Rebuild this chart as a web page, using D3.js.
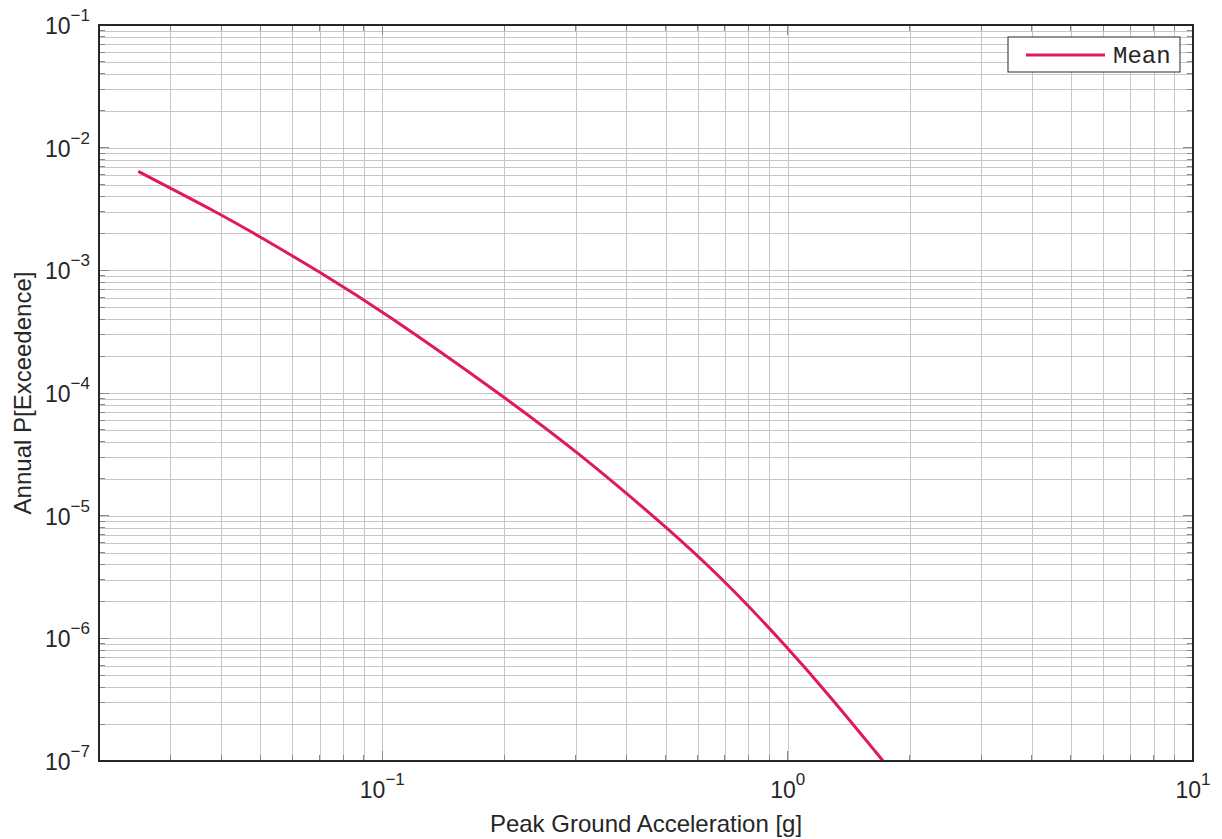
<!DOCTYPE html>
<html>
<head>
<meta charset="utf-8">
<script src="https://cdn.jsdelivr.net/npm/d3@7"></script>
<style>
  body { margin: 0; background: #fff; }
  text { font-family: "Liberation Sans", Arial, sans-serif; fill: #262626; }
</style>
</head>
<body>
<div id="chart"></div>
<script>
// hazard curve
var pga = [0.025, 0.04, 0.05, 0.07, 0.1, 0.2, 0.3, 0.5, 0.7, 1.0, 1.3, 1.72]
var annualExceedence = [6.4e-3, 2.86e-3, 1.87e-3, 9.73e-4, 4.65e-4, 9.3e-5, 3.4e-5, 8.2e-6, 2.95e-6, 8.4e-7, 3.1e-7, 1.0e-7]

var xDomain = [0.02, 10]
var yDomain = [1e-7, 1e-1]
var xLabelExps = [-1, 0, 1]
var yLabelExps = [-7, -6, -5, -4, -3, -2, -1]
var seriesName = "Mean"
var xTitle = "Peak Ground Acceleration [g]"
var yTitle = "Annual P[Exceedence]"

var width = 1222, height = 839
var margin = { top: 25, right: 29, bottom: 78, left: 99 }
var w = width - margin.left - margin.right
var h = height - margin.top - margin.bottom

var svg = d3.select("#chart").append("svg")
    .attr("width", width)
    .attr("height", height)

var g = svg.append("g")
    .attr("transform", "translate(" + margin.left + "," + margin.top + ")")

var x = d3.scaleLog().domain(xDomain).range([0, w])
var y = d3.scaleLog().domain(yDomain).range([h, 0])

var isMajor = function(d) { return Math.abs(Math.log10(d) - Math.round(Math.log10(d))) < 1e-9 }

// grid
g.append("g")
    .attr("transform", "translate(0," + h + ")")
    .call(d3.axisBottom(x).tickSize(-h).tickFormat(""))
g.append("g")
    .call(d3.axisLeft(y).tickSize(-w).tickFormat(""))
g.selectAll(".domain").remove()
g.selectAll(".tick line")
    .attr("stroke", "#c6c6c6")
    .attr("stroke-width", 1)
    .attr("shape-rendering", "crispEdges")

// inward ticks on all four sides
var tickLen = function(d) { return isMajor(d) ? 10 : 6 }
var ticks = g.append("g")
    .attr("stroke", "#8a8a8a")
    .attr("stroke-width", 1)
    .attr("shape-rendering", "crispEdges")
x.ticks().forEach(function(d) {
    ticks.append("line").attr("x1", x(d)).attr("x2", x(d)).attr("y1", h).attr("y2", h - tickLen(d))
    ticks.append("line").attr("x1", x(d)).attr("x2", x(d)).attr("y1", 0).attr("y2", tickLen(d))
})
y.ticks().forEach(function(d) {
    ticks.append("line").attr("y1", y(d)).attr("y2", y(d)).attr("x1", 0).attr("x2", tickLen(d))
    ticks.append("line").attr("y1", y(d)).attr("y2", y(d)).attr("x1", w).attr("x2", w - tickLen(d))
})

// curve
var line = d3.line()
    .x(function(d, i) { return x(pga[i]) })
    .y(function(d, i) { return y(annualExceedence[i]) })
    .curve(d3.curveBasis)

g.append("path")
    .datum(pga)
    .attr("fill", "none")
    .attr("stroke", "#e0195a")
    .attr("stroke-width", 3)
    .attr("d", line)

// box
g.append("rect")
    .attr("width", w)
    .attr("height", h)
    .attr("fill", "none")
    .attr("stroke", "#262626")
    .attr("stroke-width", 2)

var expText = function(e) { return e < 0 ? "\u2212" + (-e) : String(e) }

// x tick labels
xLabelExps.forEach(function(e) {
    var t = g.append("text")
        .attr("x", x(Math.pow(10, e)))
        .attr("y", h + 37)
        .attr("text-anchor", "middle")
        .style("font-size", "23px")
    t.append("tspan").text("10")
    t.append("tspan").attr("dy", -13).style("font-size", "17px").text(expText(e))
})

// y tick labels
yLabelExps.forEach(function(e) {
    var t = g.append("text")
        .attr("x", -9)
        .attr("y", y(Math.pow(10, e)) + 9)
        .attr("text-anchor", "end")
        .style("font-size", "23px")
    t.append("tspan").text("10")
    t.append("tspan").attr("dy", -13).style("font-size", "17px").text(expText(e))
})

// axis titles
g.append("text")
    .attr("x", w / 2)
    .attr("y", h + 71)
    .attr("text-anchor", "middle")
    .style("font-size", "24px")
    .text(xTitle)

g.append("text")
    .attr("transform", "translate(" + (-68) + "," + (h / 2) + ") rotate(-90)")
    .attr("text-anchor", "middle")
    .style("font-size", "24px")
    .text(yTitle)

// legend
var legend = g.append("g").attr("transform", "translate(" + (w - 185) + ",12)")
legend.append("rect")
    .attr("width", 172)
    .attr("height", 35)
    .attr("fill", "#fff")
    .attr("stroke", "#262626")
    .attr("stroke-width", 1)
legend.append("line")
    .attr("x1", 18).attr("x2", 97)
    .attr("y1", 18).attr("y2", 18)
    .attr("stroke", "#e0195a")
    .attr("stroke-width", 3)
legend.append("text")
    .attr("x", 105)
    .attr("y", 26)
    .style("font-family", "'Liberation Mono', 'Courier New', monospace")
    .style("font-size", "24px")
    .text(seriesName)
</script>
</body>
</html>
